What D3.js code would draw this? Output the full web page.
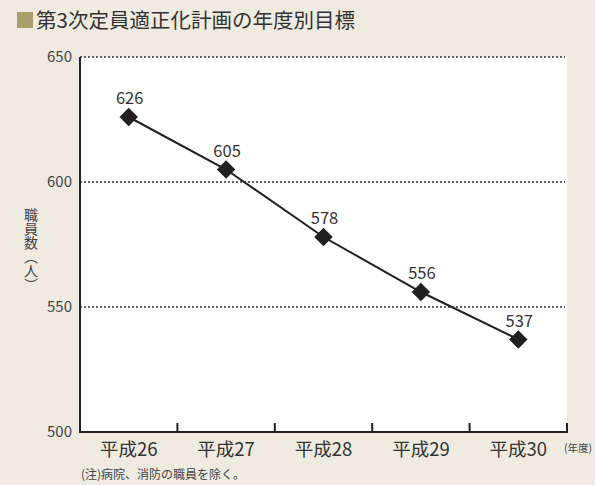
<!DOCTYPE html>
<html><head><meta charset="utf-8">
<script src="https://cdn.jsdelivr.net/npm/d3@7/dist/d3.min.js"></script>
<style>body{margin:0;background:#efebe1;}svg{display:block;font-family:"Noto Sans CJK JP","Noto Sans",sans-serif;}</style>
</head><body>
<svg id="c" width="595" height="485"></svg>
<script>
const categories = ["平成26","平成27","平成28","平成29","平成30"];
const values = [626, 605, 578, 556, 537];
const yTicks = [500, 550, 600, 650];
const gridTicks = [550, 600, 650];
const title = "第3次定員適正化計画の年度別目標";
const yTitle = "職員数（人）";
const xUnit = "(年度)";
const note = "(注)病院、消防の職員を除く。";

const svg = d3.select("#c");
svg.append("rect").attr("width",595).attr("height",485).attr("fill","#efebe1");
const L=80, R=567, T=57, B=432;
const x = d3.scaleBand().domain(categories).range([L,R]);
const y = d3.scaleLinear().domain([500,650]).range([B,T]);

svg.append("rect").attr("x",L).attr("y",T).attr("width",R-L).attr("height",B-T).attr("fill","#fff");

// title
svg.append("rect").attr("x",17).attr("y",12).attr("width",16).attr("height",16).attr("fill","#aa9e6b");
svg.append("text").attr("x",36).attr("y",28).attr("font-size",20.5).attr("fill","#333").text(title);

// grid
svg.selectAll(".g").data(gridTicks).enter().append("line")
  .attr("x1",L).attr("x2",R-2).attr("y1",d=>y(d)).attr("y2",d=>y(d))
  .attr("stroke","#333").attr("stroke-width",1.5).attr("stroke-dasharray","2,2");

// y tick labels
svg.selectAll(".yt").data(yTicks).enter().append("text")
  .attr("x",72).attr("y",d=>y(d)+5).attr("text-anchor","end").attr("font-size",15).attr("fill","#444").text(d=>d);

// axes
svg.append("line").attr("x1",L).attr("x2",L).attr("y1",T).attr("y2",B+1).attr("stroke","#222").attr("stroke-width",2);
svg.append("line").attr("x1",L-1).attr("x2",R+1).attr("y1",B).attr("y2",B).attr("stroke","#222").attr("stroke-width",2);
const bounds = categories.map(c=>x(c)).concat([x(categories[categories.length-1])+x.bandwidth()]);
svg.selectAll(".tk").data(bounds.slice(1)).enter().append("line")
  .attr("x1",d=>d).attr("x2",d=>d).attr("y1",B).attr("y2",B-9).attr("stroke","#222").attr("stroke-width",2);

// x labels
svg.selectAll(".xl").data(categories).enter().append("text")
  .attr("x",d=>x(d)+x.bandwidth()/2).attr("y",456).attr("text-anchor","middle")
  .attr("font-size",18.5).attr("fill","#333").text(d=>d);
svg.append("text").attr("x",578).attr("y",452).attr("text-anchor","middle").attr("font-size",10.5).attr("fill","#444").text(xUnit);
svg.append("text").attr("x",81).attr("y",479).attr("font-size",12).attr("fill","#444").text(note);

// y title vertical
svg.append("text").attr("transform","translate(31,208)").attr("font-size",14).attr("fill","#444")
  .style("writing-mode","vertical-rl").attr("text-anchor","start").text(yTitle);

// line
const cx = d=>x(d)+x.bandwidth()/2;
const pts = categories.map((c,i)=>[cx(c), y(values[i])]);
svg.append("path").attr("d",d3.line()(pts)).attr("fill","none").attr("stroke","#231f20").attr("stroke-width",2);
svg.selectAll(".pt").data(pts).enter().append("path")
  .attr("d",d3.symbol(d3.symbolSquare, 170))
  .attr("transform",d=>`translate(${d[0]},${d[1]}) rotate(45)`).attr("fill","#231f20");
svg.selectAll(".vl").data(values).enter().append("text")
  .attr("x",(d,i)=>pts[i][0]+1).attr("y",(d,i)=>pts[i][1]-13).attr("text-anchor","middle")
  .attr("font-size",16.5).attr("fill","#333").text(d=>d);
</script>
</body></html>
